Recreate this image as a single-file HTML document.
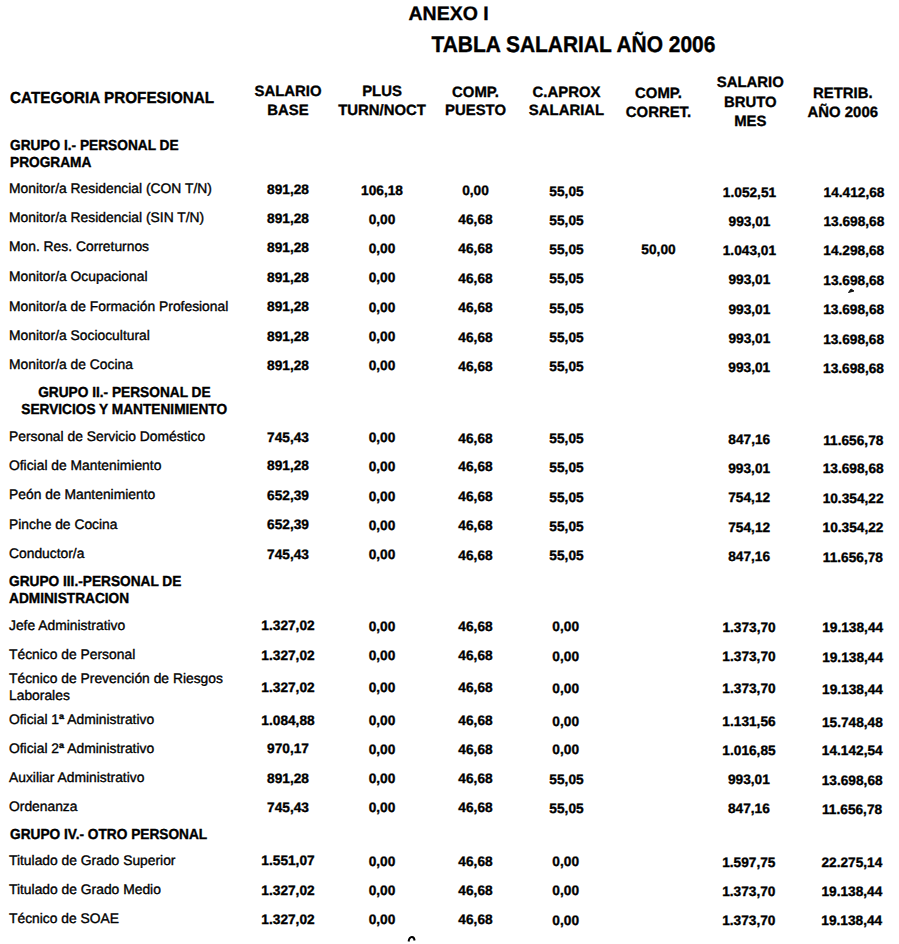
<!DOCTYPE html>
<html><head><meta charset="utf-8"><title>Anexo I - Tabla Salarial 2006</title><style>
html,body{margin:0;padding:0;background:#fff;}
body{width:899px;height:944px;position:relative;overflow:hidden;}
.t{position:absolute;white-space:nowrap;font-family:"Liberation Sans",sans-serif;color:#000;-webkit-text-stroke:0.35px #000;text-rendering:geometricPrecision;}
.b{font-weight:bold;-webkit-text-stroke:0.35px #000;}
</style></head><body>
<div class="t b" style="left:408.5px;top:5px;font-size:19.5px;line-height:19.5px;">ANEXO I</div>
<div class="t b" style="left:431.5px;top:36px;font-size:20.95px;line-height:20.95px;transform:scaleY(1.08);transform-origin:50% 10.47px;">TABLA SALARIAL AÑO 2006</div>
<div class="t b" style="left:10.0px;top:91px;font-size:15.25px;line-height:15.25px;transform:scaleY(1.05);transform-origin:50% 7.62px;">CATEGORIA PROFESIONAL</div>
<div class="t b" style="left:218.0px;width:140px;text-align:center;top:85px;font-size:14.9px;line-height:14.9px;">SALARIO</div>
<div class="t b" style="left:218.0px;width:140px;text-align:center;top:104px;font-size:14.9px;line-height:14.9px;">BASE</div>
<div class="t b" style="left:312.0px;width:140px;text-align:center;top:85px;font-size:14.9px;line-height:14.9px;">PLUS</div>
<div class="t b" style="left:312.0px;width:140px;text-align:center;top:104px;font-size:14.9px;line-height:14.9px;">TURN/NOCT</div>
<div class="t b" style="left:405.5px;width:140px;text-align:center;top:86px;font-size:14.9px;line-height:14.9px;">COMP.</div>
<div class="t b" style="left:405.5px;width:140px;text-align:center;top:104px;font-size:14.9px;line-height:14.9px;">PUESTO</div>
<div class="t b" style="left:496.5px;width:140px;text-align:center;top:86px;font-size:14.9px;line-height:14.9px;">C.APROX</div>
<div class="t b" style="left:496.5px;width:140px;text-align:center;top:104px;font-size:14.9px;line-height:14.9px;">SALARIAL</div>
<div class="t b" style="left:588.5px;width:140px;text-align:center;top:87px;font-size:14.9px;line-height:14.9px;">COMP.</div>
<div class="t b" style="left:588.5px;width:140px;text-align:center;top:106px;font-size:14.9px;line-height:14.9px;">CORRET.</div>
<div class="t b" style="left:680.3px;width:140px;text-align:center;top:76px;font-size:14.9px;line-height:14.9px;">SALARIO</div>
<div class="t b" style="left:680.3px;width:140px;text-align:center;top:96px;font-size:14.9px;line-height:14.9px;">BRUTO</div>
<div class="t b" style="left:680.3px;width:140px;text-align:center;top:115px;font-size:14.9px;line-height:14.9px;">MES</div>
<div class="t b" style="left:772.8px;width:140px;text-align:center;top:87px;font-size:14.9px;line-height:14.9px;">RETRIB.</div>
<div class="t b" style="left:772.8px;width:140px;text-align:center;top:106px;font-size:14.9px;line-height:14.9px;">AÑO 2006</div>
<div class="t b" style="left:10.0px;top:139px;font-size:13.7px;line-height:13.7px;transform:scaleY(1.06);transform-origin:50% 6.85px;">GRUPO I.- PERSONAL DE</div>
<div class="t b" style="left:10.0px;top:156px;font-size:13.7px;line-height:13.7px;transform:scaleY(1.06);transform-origin:50% 6.85px;">PROGRAMA</div>
<div class="t" style="left:9.0px;top:182px;font-size:13.85px;line-height:13.85px;">Monitor/a Residencial (CON T/N)</div>
<div class="t b" style="left:228.0px;width:120px;text-align:center;top:183px;font-size:13.7px;line-height:13.7px;">891,28</div>
<div class="t b" style="left:322.0px;width:120px;text-align:center;top:184px;font-size:13.7px;line-height:13.7px;">106,18</div>
<div class="t b" style="left:415.5px;width:120px;text-align:center;top:184px;font-size:13.7px;line-height:13.7px;">0,00</div>
<div class="t b" style="left:506.5px;width:120px;text-align:center;top:185px;font-size:13.7px;line-height:13.7px;">55,05</div>
<div class="t b" style="left:689.5px;width:120px;text-align:center;top:186px;font-size:13.7px;line-height:13.7px;">1.052,51</div>
<div class="t b" style="left:794.0px;width:120px;text-align:center;top:186px;font-size:13.7px;line-height:13.7px;">14.412,68</div>
<div class="t" style="left:9.0px;top:211px;font-size:13.85px;line-height:13.85px;">Monitor/a Residencial (SIN T/N)</div>
<div class="t b" style="left:228.0px;width:120px;text-align:center;top:212px;font-size:13.7px;line-height:13.7px;">891,28</div>
<div class="t b" style="left:322.0px;width:120px;text-align:center;top:213px;font-size:13.7px;line-height:13.7px;">0,00</div>
<div class="t b" style="left:415.5px;width:120px;text-align:center;top:213px;font-size:13.7px;line-height:13.7px;">46,68</div>
<div class="t b" style="left:506.5px;width:120px;text-align:center;top:214px;font-size:13.7px;line-height:13.7px;">55,05</div>
<div class="t b" style="left:689.5px;width:120px;text-align:center;top:215px;font-size:13.7px;line-height:13.7px;">993,01</div>
<div class="t b" style="left:793.9px;width:120px;text-align:center;top:215px;font-size:13.7px;line-height:13.7px;">13.698,68</div>
<div class="t" style="left:9.0px;top:240px;font-size:13.85px;line-height:13.85px;">Mon. Res. Correturnos</div>
<div class="t b" style="left:228.0px;width:120px;text-align:center;top:241px;font-size:13.7px;line-height:13.7px;">891,28</div>
<div class="t b" style="left:322.0px;width:120px;text-align:center;top:242px;font-size:13.7px;line-height:13.7px;">0,00</div>
<div class="t b" style="left:415.5px;width:120px;text-align:center;top:242px;font-size:13.7px;line-height:13.7px;">46,68</div>
<div class="t b" style="left:506.5px;width:120px;text-align:center;top:243px;font-size:13.7px;line-height:13.7px;">55,05</div>
<div class="t b" style="left:598.5px;width:120px;text-align:center;top:243px;font-size:13.7px;line-height:13.7px;">50,00</div>
<div class="t b" style="left:689.4px;width:120px;text-align:center;top:244px;font-size:13.7px;line-height:13.7px;">1.043,01</div>
<div class="t b" style="left:793.8px;width:120px;text-align:center;top:244px;font-size:13.7px;line-height:13.7px;">14.298,68</div>
<div class="t" style="left:9.0px;top:270px;font-size:13.85px;line-height:13.85px;">Monitor/a Ocupacional</div>
<div class="t b" style="left:228.0px;width:120px;text-align:center;top:271px;font-size:13.7px;line-height:13.7px;">891,28</div>
<div class="t b" style="left:322.0px;width:120px;text-align:center;top:271px;font-size:13.7px;line-height:13.7px;">0,00</div>
<div class="t b" style="left:415.5px;width:120px;text-align:center;top:272px;font-size:13.7px;line-height:13.7px;">46,68</div>
<div class="t b" style="left:506.5px;width:120px;text-align:center;top:272px;font-size:13.7px;line-height:13.7px;">55,05</div>
<div class="t b" style="left:689.4px;width:120px;text-align:center;top:273px;font-size:13.7px;line-height:13.7px;">993,01</div>
<div class="t b" style="left:793.8px;width:120px;text-align:center;top:274px;font-size:13.7px;line-height:13.7px;">13.698,68</div>
<div class="t" style="left:9.0px;top:300px;font-size:13.85px;line-height:13.85px;">Monitor/a de Formación Profesional</div>
<div class="t b" style="left:228.0px;width:120px;text-align:center;top:300px;font-size:13.7px;line-height:13.7px;">891,28</div>
<div class="t b" style="left:322.0px;width:120px;text-align:center;top:301px;font-size:13.7px;line-height:13.7px;">0,00</div>
<div class="t b" style="left:415.5px;width:120px;text-align:center;top:301px;font-size:13.7px;line-height:13.7px;">46,68</div>
<div class="t b" style="left:506.5px;width:120px;text-align:center;top:302px;font-size:13.7px;line-height:13.7px;">55,05</div>
<div class="t b" style="left:689.4px;width:120px;text-align:center;top:303px;font-size:13.7px;line-height:13.7px;">993,01</div>
<div class="t b" style="left:793.7px;width:120px;text-align:center;top:303px;font-size:13.7px;line-height:13.7px;">13.698,68</div>
<div class="t" style="left:9.0px;top:329px;font-size:13.85px;line-height:13.85px;">Monitor/a Sociocultural</div>
<div class="t b" style="left:228.0px;width:120px;text-align:center;top:330px;font-size:13.7px;line-height:13.7px;">891,28</div>
<div class="t b" style="left:322.0px;width:120px;text-align:center;top:330px;font-size:13.7px;line-height:13.7px;">0,00</div>
<div class="t b" style="left:415.5px;width:120px;text-align:center;top:331px;font-size:13.7px;line-height:13.7px;">46,68</div>
<div class="t b" style="left:506.5px;width:120px;text-align:center;top:331px;font-size:13.7px;line-height:13.7px;">55,05</div>
<div class="t b" style="left:689.4px;width:120px;text-align:center;top:332px;font-size:13.7px;line-height:13.7px;">993,01</div>
<div class="t b" style="left:793.6px;width:120px;text-align:center;top:333px;font-size:13.7px;line-height:13.7px;">13.698,68</div>
<div class="t" style="left:9.0px;top:358px;font-size:13.85px;line-height:13.85px;">Monitor/a de Cocina</div>
<div class="t b" style="left:228.0px;width:120px;text-align:center;top:359px;font-size:13.7px;line-height:13.7px;">891,28</div>
<div class="t b" style="left:322.0px;width:120px;text-align:center;top:359px;font-size:13.7px;line-height:13.7px;">0,00</div>
<div class="t b" style="left:415.5px;width:120px;text-align:center;top:360px;font-size:13.7px;line-height:13.7px;">46,68</div>
<div class="t b" style="left:506.5px;width:120px;text-align:center;top:360px;font-size:13.7px;line-height:13.7px;">55,05</div>
<div class="t b" style="left:689.3px;width:120px;text-align:center;top:361px;font-size:13.7px;line-height:13.7px;">993,01</div>
<div class="t b" style="left:793.5px;width:120px;text-align:center;top:362px;font-size:13.7px;line-height:13.7px;">13.698,68</div>
<div class="t b" style="left:-5.6px;width:260px;text-align:center;top:386px;font-size:13.7px;line-height:13.7px;transform:scaleY(1.06);transform-origin:50% 6.85px;">GRUPO II.- PERSONAL DE</div>
<div class="t b" style="left:-5.8px;width:260px;text-align:center;top:403px;font-size:13.7px;line-height:13.7px;transform:scaleY(1.06);transform-origin:50% 6.85px;">SERVICIOS Y MANTENIMIENTO</div>
<div class="t" style="left:9.0px;top:430px;font-size:13.85px;line-height:13.85px;">Personal de Servicio Doméstico</div>
<div class="t b" style="left:228.0px;width:120px;text-align:center;top:431px;font-size:13.7px;line-height:13.7px;">745,43</div>
<div class="t b" style="left:322.0px;width:120px;text-align:center;top:431px;font-size:13.7px;line-height:13.7px;">0,00</div>
<div class="t b" style="left:415.5px;width:120px;text-align:center;top:432px;font-size:13.7px;line-height:13.7px;">46,68</div>
<div class="t b" style="left:506.5px;width:120px;text-align:center;top:432px;font-size:13.7px;line-height:13.7px;">55,05</div>
<div class="t b" style="left:689.3px;width:120px;text-align:center;top:433px;font-size:13.7px;line-height:13.7px;">847,16</div>
<div class="t b" style="left:793.3px;width:120px;text-align:center;top:434px;font-size:13.7px;line-height:13.7px;">11.656,78</div>
<div class="t" style="left:9.0px;top:459px;font-size:13.85px;line-height:13.85px;">Oficial de Mantenimiento</div>
<div class="t b" style="left:228.0px;width:120px;text-align:center;top:459px;font-size:13.7px;line-height:13.7px;">891,28</div>
<div class="t b" style="left:322.0px;width:120px;text-align:center;top:460px;font-size:13.7px;line-height:13.7px;">0,00</div>
<div class="t b" style="left:415.5px;width:120px;text-align:center;top:460px;font-size:13.7px;line-height:13.7px;">46,68</div>
<div class="t b" style="left:506.5px;width:120px;text-align:center;top:461px;font-size:13.7px;line-height:13.7px;">55,05</div>
<div class="t b" style="left:689.2px;width:120px;text-align:center;top:462px;font-size:13.7px;line-height:13.7px;">993,01</div>
<div class="t b" style="left:793.2px;width:120px;text-align:center;top:462px;font-size:13.7px;line-height:13.7px;">13.698,68</div>
<div class="t" style="left:9.0px;top:488px;font-size:13.85px;line-height:13.85px;">Peón de Mantenimiento</div>
<div class="t b" style="left:228.0px;width:120px;text-align:center;top:489px;font-size:13.7px;line-height:13.7px;">652,39</div>
<div class="t b" style="left:322.0px;width:120px;text-align:center;top:490px;font-size:13.7px;line-height:13.7px;">0,00</div>
<div class="t b" style="left:415.5px;width:120px;text-align:center;top:490px;font-size:13.7px;line-height:13.7px;">46,68</div>
<div class="t b" style="left:506.5px;width:120px;text-align:center;top:491px;font-size:13.7px;line-height:13.7px;">55,05</div>
<div class="t b" style="left:689.2px;width:120px;text-align:center;top:491px;font-size:13.7px;line-height:13.7px;">754,12</div>
<div class="t b" style="left:793.1px;width:120px;text-align:center;top:492px;font-size:13.7px;line-height:13.7px;">10.354,22</div>
<div class="t" style="left:9.0px;top:518px;font-size:13.85px;line-height:13.85px;">Pinche de Cocina</div>
<div class="t b" style="left:228.0px;width:120px;text-align:center;top:518px;font-size:13.7px;line-height:13.7px;">652,39</div>
<div class="t b" style="left:322.0px;width:120px;text-align:center;top:519px;font-size:13.7px;line-height:13.7px;">0,00</div>
<div class="t b" style="left:415.5px;width:120px;text-align:center;top:519px;font-size:13.7px;line-height:13.7px;">46,68</div>
<div class="t b" style="left:506.5px;width:120px;text-align:center;top:520px;font-size:13.7px;line-height:13.7px;">55,05</div>
<div class="t b" style="left:689.2px;width:120px;text-align:center;top:521px;font-size:13.7px;line-height:13.7px;">754,12</div>
<div class="t b" style="left:793.0px;width:120px;text-align:center;top:521px;font-size:13.7px;line-height:13.7px;">10.354,22</div>
<div class="t" style="left:9.0px;top:547px;font-size:13.85px;line-height:13.85px;">Conductor/a</div>
<div class="t b" style="left:228.0px;width:120px;text-align:center;top:548px;font-size:13.7px;line-height:13.7px;">745,43</div>
<div class="t b" style="left:322.0px;width:120px;text-align:center;top:548px;font-size:13.7px;line-height:13.7px;">0,00</div>
<div class="t b" style="left:415.5px;width:120px;text-align:center;top:549px;font-size:13.7px;line-height:13.7px;">46,68</div>
<div class="t b" style="left:506.5px;width:120px;text-align:center;top:549px;font-size:13.7px;line-height:13.7px;">55,05</div>
<div class="t b" style="left:689.1px;width:120px;text-align:center;top:550px;font-size:13.7px;line-height:13.7px;">847,16</div>
<div class="t b" style="left:792.9px;width:120px;text-align:center;top:551px;font-size:13.7px;line-height:13.7px;">11.656,78</div>
<div class="t b" style="left:9.0px;top:575px;font-size:13.7px;line-height:13.7px;transform:scaleY(1.06);transform-origin:50% 6.85px;">GRUPO III.-PERSONAL DE</div>
<div class="t b" style="left:9.0px;top:592px;font-size:13.7px;line-height:13.7px;transform:scaleY(1.06);transform-origin:50% 6.85px;">ADMINISTRACION</div>
<div class="t" style="left:9.0px;top:619px;font-size:13.85px;line-height:13.85px;">Jefe Administrativo</div>
<div class="t b" style="left:228.0px;width:120px;text-align:center;top:619px;font-size:13.7px;line-height:13.7px;">1.327,02</div>
<div class="t b" style="left:322.0px;width:120px;text-align:center;top:620px;font-size:13.7px;line-height:13.7px;">0,00</div>
<div class="t b" style="left:415.5px;width:120px;text-align:center;top:620px;font-size:13.7px;line-height:13.7px;">46,68</div>
<div class="t b" style="left:505.7px;width:120px;text-align:center;top:620px;font-size:13.7px;line-height:13.7px;">0,00</div>
<div class="t b" style="left:689.1px;width:120px;text-align:center;top:621px;font-size:13.7px;line-height:13.7px;">1.373,70</div>
<div class="t b" style="left:792.7px;width:120px;text-align:center;top:621px;font-size:13.7px;line-height:13.7px;">19.138,44</div>
<div class="t" style="left:9.0px;top:648px;font-size:13.85px;line-height:13.85px;">Técnico de Personal</div>
<div class="t b" style="left:228.0px;width:120px;text-align:center;top:649px;font-size:13.7px;line-height:13.7px;">1.327,02</div>
<div class="t b" style="left:322.0px;width:120px;text-align:center;top:649px;font-size:13.7px;line-height:13.7px;">0,00</div>
<div class="t b" style="left:415.5px;width:120px;text-align:center;top:649px;font-size:13.7px;line-height:13.7px;">46,68</div>
<div class="t b" style="left:505.7px;width:120px;text-align:center;top:650px;font-size:13.7px;line-height:13.7px;">0,00</div>
<div class="t b" style="left:689.0px;width:120px;text-align:center;top:650px;font-size:13.7px;line-height:13.7px;">1.373,70</div>
<div class="t b" style="left:792.6px;width:120px;text-align:center;top:651px;font-size:13.7px;line-height:13.7px;">19.138,44</div>
<div class="t" style="left:9.0px;top:672px;font-size:13.85px;line-height:13.85px;">Técnico de Prevención de Riesgos</div>
<div class="t" style="left:9.0px;top:689px;font-size:13.85px;line-height:13.85px;">Laborales</div>
<div class="t b" style="left:228.0px;width:120px;text-align:center;top:681px;font-size:13.7px;line-height:13.7px;">1.327,02</div>
<div class="t b" style="left:322.0px;width:120px;text-align:center;top:681px;font-size:13.7px;line-height:13.7px;">0,00</div>
<div class="t b" style="left:415.5px;width:120px;text-align:center;top:681px;font-size:13.7px;line-height:13.7px;">46,68</div>
<div class="t b" style="left:505.7px;width:120px;text-align:center;top:682px;font-size:13.7px;line-height:13.7px;">0,00</div>
<div class="t b" style="left:689.0px;width:120px;text-align:center;top:682px;font-size:13.7px;line-height:13.7px;">1.373,70</div>
<div class="t b" style="left:792.5px;width:120px;text-align:center;top:683px;font-size:13.7px;line-height:13.7px;">19.138,44</div>
<div class="t" style="left:9.0px;top:713px;font-size:13.85px;line-height:13.85px;">Oficial 1<b>ª</b> Administrativo</div>
<div class="t b" style="left:228.0px;width:120px;text-align:center;top:714px;font-size:13.7px;line-height:13.7px;">1.084,88</div>
<div class="t b" style="left:322.0px;width:120px;text-align:center;top:714px;font-size:13.7px;line-height:13.7px;">0,00</div>
<div class="t b" style="left:415.5px;width:120px;text-align:center;top:714px;font-size:13.7px;line-height:13.7px;">46,68</div>
<div class="t b" style="left:505.7px;width:120px;text-align:center;top:715px;font-size:13.7px;line-height:13.7px;">0,00</div>
<div class="t b" style="left:689.0px;width:120px;text-align:center;top:715px;font-size:13.7px;line-height:13.7px;">1.131,56</div>
<div class="t b" style="left:792.4px;width:120px;text-align:center;top:716px;font-size:13.7px;line-height:13.7px;">15.748,48</div>
<div class="t" style="left:9.0px;top:742px;font-size:13.85px;line-height:13.85px;">Oficial 2<b>ª</b> Administrativo</div>
<div class="t b" style="left:228.0px;width:120px;text-align:center;top:742px;font-size:13.7px;line-height:13.7px;">970,17</div>
<div class="t b" style="left:322.0px;width:120px;text-align:center;top:743px;font-size:13.7px;line-height:13.7px;">0,00</div>
<div class="t b" style="left:415.5px;width:120px;text-align:center;top:743px;font-size:13.7px;line-height:13.7px;">46,68</div>
<div class="t b" style="left:505.7px;width:120px;text-align:center;top:743px;font-size:13.7px;line-height:13.7px;">0,00</div>
<div class="t b" style="left:689.0px;width:120px;text-align:center;top:744px;font-size:13.7px;line-height:13.7px;">1.016,85</div>
<div class="t b" style="left:792.3px;width:120px;text-align:center;top:744px;font-size:13.7px;line-height:13.7px;">14.142,54</div>
<div class="t" style="left:9.0px;top:771px;font-size:13.85px;line-height:13.85px;">Auxiliar Administrativo</div>
<div class="t b" style="left:228.0px;width:120px;text-align:center;top:772px;font-size:13.7px;line-height:13.7px;">891,28</div>
<div class="t b" style="left:322.0px;width:120px;text-align:center;top:772px;font-size:13.7px;line-height:13.7px;">0,00</div>
<div class="t b" style="left:415.5px;width:120px;text-align:center;top:772px;font-size:13.7px;line-height:13.7px;">46,68</div>
<div class="t b" style="left:506.5px;width:120px;text-align:center;top:773px;font-size:13.7px;line-height:13.7px;">55,05</div>
<div class="t b" style="left:688.9px;width:120px;text-align:center;top:773px;font-size:13.7px;line-height:13.7px;">993,01</div>
<div class="t b" style="left:792.2px;width:120px;text-align:center;top:774px;font-size:13.7px;line-height:13.7px;">13.698,68</div>
<div class="t" style="left:9.0px;top:800px;font-size:13.85px;line-height:13.85px;">Ordenanza</div>
<div class="t b" style="left:228.0px;width:120px;text-align:center;top:801px;font-size:13.7px;line-height:13.7px;">745,43</div>
<div class="t b" style="left:322.0px;width:120px;text-align:center;top:801px;font-size:13.7px;line-height:13.7px;">0,00</div>
<div class="t b" style="left:415.5px;width:120px;text-align:center;top:801px;font-size:13.7px;line-height:13.7px;">46,68</div>
<div class="t b" style="left:506.5px;width:120px;text-align:center;top:802px;font-size:13.7px;line-height:13.7px;">55,05</div>
<div class="t b" style="left:688.9px;width:120px;text-align:center;top:802px;font-size:13.7px;line-height:13.7px;">847,16</div>
<div class="t b" style="left:792.1px;width:120px;text-align:center;top:803px;font-size:13.7px;line-height:13.7px;">11.656,78</div>
<div class="t b" style="left:10.0px;top:828px;font-size:13.7px;line-height:13.7px;transform:scaleY(1.06);transform-origin:50% 6.85px;">GRUPO IV.- OTRO PERSONAL</div>
<div class="t" style="left:9.0px;top:854px;font-size:13.85px;line-height:13.85px;">Titulado de Grado Superior</div>
<div class="t b" style="left:228.0px;width:120px;text-align:center;top:854px;font-size:13.7px;line-height:13.7px;">1.551,07</div>
<div class="t b" style="left:322.0px;width:120px;text-align:center;top:855px;font-size:13.7px;line-height:13.7px;">0,00</div>
<div class="t b" style="left:415.5px;width:120px;text-align:center;top:855px;font-size:13.7px;line-height:13.7px;">46,68</div>
<div class="t b" style="left:505.7px;width:120px;text-align:center;top:855px;font-size:13.7px;line-height:13.7px;">0,00</div>
<div class="t b" style="left:688.8px;width:120px;text-align:center;top:856px;font-size:13.7px;line-height:13.7px;">1.597,75</div>
<div class="t b" style="left:791.9px;width:120px;text-align:center;top:856px;font-size:13.7px;line-height:13.7px;">22.275,14</div>
<div class="t" style="left:9.0px;top:883px;font-size:13.85px;line-height:13.85px;">Titulado de Grado Medio</div>
<div class="t b" style="left:228.0px;width:120px;text-align:center;top:884px;font-size:13.7px;line-height:13.7px;">1.327,02</div>
<div class="t b" style="left:322.0px;width:120px;text-align:center;top:884px;font-size:13.7px;line-height:13.7px;">0,00</div>
<div class="t b" style="left:415.5px;width:120px;text-align:center;top:884px;font-size:13.7px;line-height:13.7px;">46,68</div>
<div class="t b" style="left:505.7px;width:120px;text-align:center;top:884px;font-size:13.7px;line-height:13.7px;">0,00</div>
<div class="t b" style="left:688.8px;width:120px;text-align:center;top:885px;font-size:13.7px;line-height:13.7px;">1.373,70</div>
<div class="t b" style="left:791.9px;width:120px;text-align:center;top:885px;font-size:13.7px;line-height:13.7px;">19.138,44</div>
<div class="t" style="left:9.0px;top:912px;font-size:13.85px;line-height:13.85px;">Técnico de SOAE</div>
<div class="t b" style="left:228.0px;width:120px;text-align:center;top:913px;font-size:13.7px;line-height:13.7px;">1.327,02</div>
<div class="t b" style="left:322.0px;width:120px;text-align:center;top:913px;font-size:13.7px;line-height:13.7px;">0,00</div>
<div class="t b" style="left:415.5px;width:120px;text-align:center;top:913px;font-size:13.7px;line-height:13.7px;">46,68</div>
<div class="t b" style="left:505.7px;width:120px;text-align:center;top:914px;font-size:13.7px;line-height:13.7px;">0,00</div>
<div class="t b" style="left:688.8px;width:120px;text-align:center;top:914px;font-size:13.7px;line-height:13.7px;">1.373,70</div>
<div class="t b" style="left:791.8px;width:120px;text-align:center;top:914px;font-size:13.7px;line-height:13.7px;">19.138,44</div>
<svg style="position:absolute;left:400px;top:930px" width="24" height="14" viewBox="0 0 24 14"><path d="M8.6 11.5 C9.5 5.8 14 5.8 14.6 10.5" stroke="#000" stroke-width="2" fill="none"/></svg>
<svg style="position:absolute;left:846px;top:286px" width="10" height="8"><path d="M2.5 6.5 L5 3 L8 5 Z" fill="#111" stroke="#111" stroke-width="1"/></svg>
</body></html>
